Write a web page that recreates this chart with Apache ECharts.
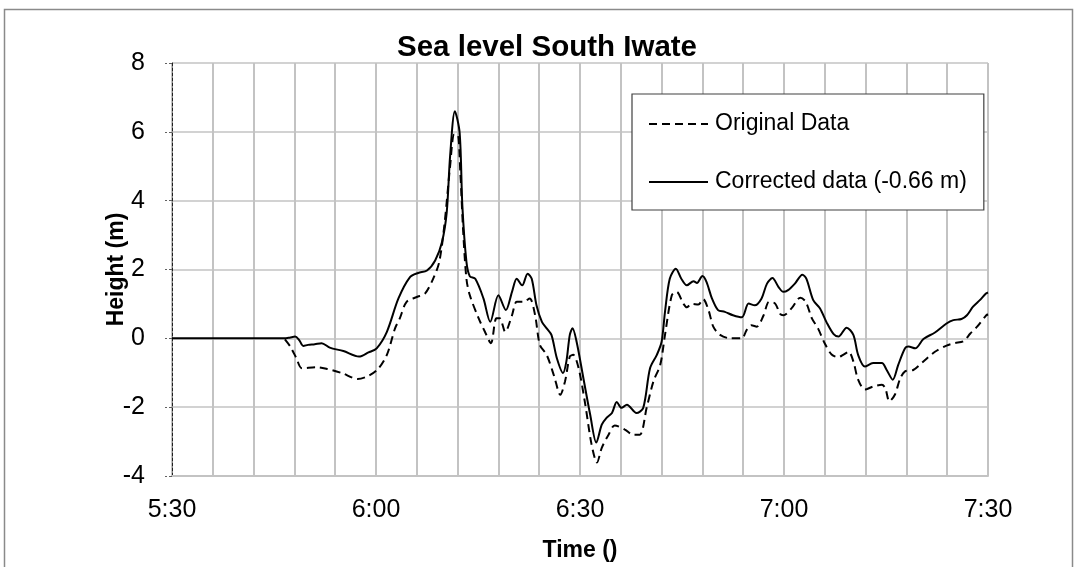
<!DOCTYPE html>
<html>
<head>
<meta charset="utf-8">
<title>Sea level South Iwate</title>
<script src="https://cdn.jsdelivr.net/npm/echarts@6/dist/echarts.min.js"></script>
<style>
  html, body { margin: 0; padding: 0; background: #ffffff; }
  #chart { width: 1077px; height: 567px; }
</style>
</head>
<body>
<div id="chart"></div>
<script>
// Time axis: minutes after 5:30
const START_HOUR = 5;
const START_MIN = 30;
const yTicks = [-4, -2, 0, 2, 4, 6, 8];
const seriesNames = ['Original Data', 'Corrected data (-0.66 m)'];

// Original gauge record (m)
const originalTime = [
  16.6, 17.4, 18.3, 19.1, 21.3, 22.8, 25.0, 27.3, 28.9, 30.3, 31.6, 32.8, 33.5, 34.5,
  36.0, 37.2, 38.4, 39.3, 40.1, 40.9, 41.5, 42.0, 42.4, 42.8, 43.3, 43.8, 45.1, 46.0,
  46.9, 47.7, 48.2, 49.0, 50.0, 50.7, 51.7, 52.6, 53.4, 54.1, 55.1, 56.2, 57.1, 57.8,
  58.5, 59.0, 59.8, 60.7, 61.7, 62.5, 63.2, 64.2, 65.1, 66.6, 67.8, 68.8, 69.8, 70.8,
  71.8, 72.5, 73.5, 74.2, 75.2, 75.7, 76.4, 77.4, 78.1, 78.9, 79.6, 80.6, 82.1, 83.8,
  84.5, 85.2, 86.0, 87.0, 87.8, 88.7, 89.4, 89.9, 91.1, 92.4, 93.2, 94.1, 95.0, 96.0,
  97.0, 98.0, 98.7, 99.5, 100.2, 100.9, 101.9, 103.1, 104.4, 104.9, 105.5, 106.3, 107.1,
  107.8, 109.0, 110.5, 112.2, 113.9, 115.1, 116.4, 117.4, 118.4, 119.7, 120.0
];
const originalHeight = [
  -0.03, -0.24, -0.58, -0.87, -0.84, -0.89, -1.01, -1.18, -1.09, -0.89, -0.48, 0.29, 0.58, 1.06,
  1.20, 1.30, 1.73, 2.22, 3.37, 5.01, 5.92, 5.92, 4.82, 3.18, 1.73, 1.25, 0.58, 0.20,
  -0.14, 0.58, 0.58, 0.19, 0.67, 1.06, 1.06, 1.16, 0.67, -0.19, -0.48, -1.10, -1.64, -1.25,
  -0.53, -0.48, -0.87, -1.83, -3.08, -3.61, -3.18, -2.80, -2.53, -2.65, -2.80, -2.80, -2.02, -1.25,
  -0.77, 0.10, 1.25, 1.35, 1.01, 0.90, 1.00, 0.98, 1.14, 0.82, 0.34, 0.10, 0.00, 0.00,
  0.24, 0.38, 0.34, 0.67, 1.06, 1.01, 0.72, 0.67, 0.87, 1.18, 1.06, 0.58, 0.29, -0.15,
  -0.47, -0.55, -0.48, -0.39, -0.67, -1.20, -1.49, -1.40, -1.35, -1.45, -1.83, -1.64, -1.16,
  -0.96, -0.92, -0.67, -0.39, -0.21, -0.14, -0.08, 0.14, 0.34, 0.66, 0.70
];

// Record after the datum correction (m)
const correctedTime = [
  0, 8, 16.5, 17.3, 18.1, 18.7, 19.3, 20.0, 21.0, 22.0, 23.2, 25.2, 27.5, 28.9,
  30.1, 31.6, 33.3, 35.0, 36.2, 37.5, 38.7, 39.7, 40.4, 40.9, 41.6, 42.3, 42.7, 43.3,
  43.8, 44.6, 45.8, 46.8, 48.0, 49.1, 50.0, 50.7, 51.5, 52.3, 52.9, 53.6, 54.4, 55.1,
  55.8, 56.6, 57.5, 58.0, 58.5, 58.9, 59.5, 60.5, 61.5, 62.4, 63.2, 63.9, 64.7, 65.4,
  66.1, 66.9, 68.3, 69.3, 70.3, 71.3, 72.0, 72.5, 73.2, 74.1, 74.9, 75.7, 76.7, 77.2,
  78.0, 78.6, 79.4, 80.3, 81.3, 82.5, 83.8, 84.8, 85.7, 86.7, 87.5, 88.3, 89.2, 89.9,
  90.6, 91.6, 92.7, 93.3, 94.3, 95.3, 96.3, 97.3, 98.0, 99.2, 100.2, 100.9, 101.9, 103.1,
  104.4, 105.1, 106.0, 106.8, 107.8, 108.3, 109.3, 110.5, 112.2, 113.9, 114.9, 116.1, 116.9,
  117.8, 118.8, 119.7, 120.0
];
const correctedHeight = [
  0, 0, 0.00, 0.02, 0.05, -0.05, -0.22, -0.19, -0.17, -0.14, -0.27, -0.37, -0.53, -0.41,
  -0.29, 0.19, 1.16, 1.78, 1.90, 1.97, 2.26, 2.79, 3.66, 5.30, 6.60, 5.97, 3.85, 2.22,
  1.80, 1.73, 1.16, 0.48, 1.25, 0.82, 1.35, 1.73, 1.54, 1.88, 1.73, 0.96, 0.48, 0.29,
  0.10, -0.58, -1.01, -0.67, 0.10, 0.29, -0.10, -1.16, -2.22, -3.03, -2.51, -2.31, -2.17, -1.85,
  -2.02, -1.93, -2.17, -2.02, -0.87, -0.48, -0.10, 0.77, 1.73, 2.02, 1.73, 1.54, 1.66, 1.61,
  1.81, 1.64, 1.16, 0.82, 0.77, 0.67, 0.61, 1.01, 0.96, 1.16, 1.59, 1.75, 1.49, 1.35,
  1.40, 1.59, 1.85, 1.73, 1.11, 0.87, 0.45, 0.12, 0.05, 0.31, 0.10, -0.48, -0.82, -0.72,
  -0.72, -0.92, -1.20, -0.77, -0.29, -0.24, -0.29, -0.02, 0.17, 0.43, 0.53, 0.56, 0.67,
  0.92, 1.11, 1.30, 1.33
];

function pairs(xs, ys) {
  return xs.map((x, i) => [x, ys[i]]);
}

function clockLabel(v) {
  if (v % 30 !== 0) return '';
  const total = START_HOUR * 60 + START_MIN + v;
  const h = Math.floor(total / 60);
  const m = total % 60;
  return h + ':' + (m < 10 ? '0' + m : m);
}

const FONT = "'Liberation Sans', Arial, sans-serif";
const GRID_GRAY = '#c3c3c3';

const chart = echarts.init(document.getElementById('chart'), null, { renderer: 'canvas' });

chart.setOption({
  backgroundColor: '#ffffff',
  animation: false,
  textStyle: { fontFamily: FONT, color: '#000' },
  graphic: [{
    type: 'rect',
    shape: { x: 4.5, y: 9.5, width: 1068, height: 600 },
    style: { fill: 'none', stroke: '#8a8a8a', lineWidth: 1.5 },
    silent: true
  }],
  title: {
    text: 'Sea level South Iwate',
    left: 397,
    top: 33,
    padding: 0,
    textStyle: { fontFamily: FONT, fontSize: 29.5, fontWeight: 'bold', color: '#000' }
  },
  legend: {
    data: seriesNames,
    orient: 'vertical',
    left: 632,
    top: 94,
    padding: [17, 17, 15, 16],
    itemGap: 32,
    itemWidth: 59,
    itemHeight: 14,
    backgroundColor: '#ffffff',
    borderColor: '#404040',
    borderWidth: 1.2,
    borderRadius: 0,
    itemStyle: { color: 'transparent', borderWidth: 0, opacity: 0 },
    textStyle: { fontFamily: FONT, fontSize: 23, color: '#000', lineHeight: 26, padding: [0, 0, 0, 2] }
  },
  grid: { left: 172, right: 89, top: 63, bottom: 89, containLabel: false },
  xAxis: {
    type: 'value',
    min: 0,
    max: 120,
    interval: 6,
    name: 'Time ()',
    nameLocation: 'middle',
    nameGap: 63,
    nameTextStyle: { fontFamily: FONT, fontSize: 23, fontWeight: 'bold', color: '#000' },
    axisLine: { show: true, onZero: false, lineStyle: { color: GRID_GRAY, width: 2 } },
    axisTick: { show: false },
    axisLabel: {
      formatter: clockLabel,
      fontFamily: FONT,
      fontSize: 25,
      color: '#000',
      margin: 22
    },
    splitLine: { show: true, lineStyle: { color: GRID_GRAY, width: 2 } }
  },
  yAxis: {
    type: 'value',
    min: yTicks[0],
    max: yTicks[yTicks.length - 1],
    interval: 2,
    name: 'Height (m)',
    nameLocation: 'middle',
    nameGap: 44,
    nameMoveOverlap: false,
    nameTextStyle: { fontFamily: FONT, fontSize: 23, fontWeight: 'bold', color: '#000' },
    axisLine: { show: true, onZero: false, lineStyle: { color: '#202020', width: 1, type: [3, 2] } },
    axisTick: { show: true, length: 7, lineStyle: { color: '#606060', width: 1, type: [3, 2] } },
    axisLabel: { fontFamily: FONT, fontSize: 25, color: '#000', margin: 27 },
    splitLine: { show: true, lineStyle: { color: GRID_GRAY, width: 1.5 } }
  },
  series: [
    {
      name: seriesNames[0],
      type: 'line',
      data: pairs(originalTime, originalHeight),
      symbol: 'none',
      smooth: 0.3,
      lineStyle: { color: '#000', width: 2, type: [8, 5] },
      itemStyle: { color: '#000' },
      z: 3
    },
    {
      name: seriesNames[1],
      type: 'line',
      data: pairs(correctedTime, correctedHeight),
      symbol: 'none',
      smooth: 0.3,
      lineStyle: { color: '#000', width: 2 },
      itemStyle: { color: '#000' },
      z: 4
    }
  ]
});
</script>
</body>
</html>
